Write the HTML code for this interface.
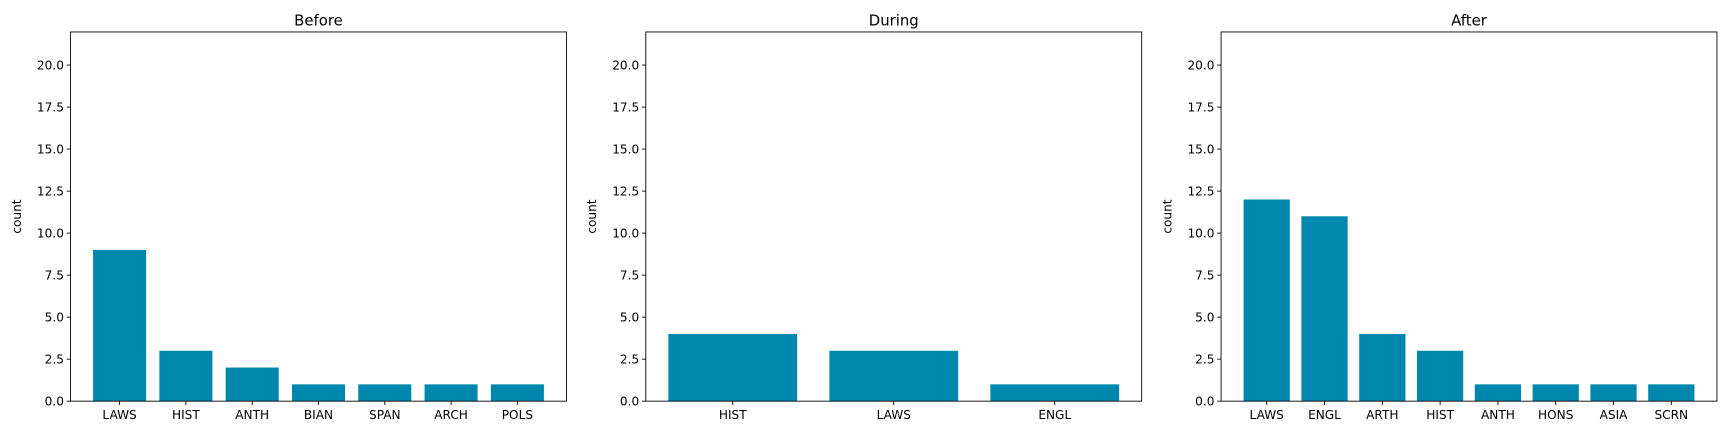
<!DOCTYPE html>
<html><head><meta charset="utf-8"><style>
body{margin:0;background:#fff;}
svg{display:block;font-family:"DejaVu Sans","Liberation Sans",sans-serif;}
</style></head><body>
<svg id="chart" width="1728" height="435" viewBox="0 0 1568 394.7" preserveAspectRatio="none"></svg>
<script>
const titles = ["Before","During","After"];
const cats0 = ["LAWS","HIST","ANTH","BIAN","SPAN","ARCH","POLS"];
const vals0 = [9,3,2,1,1,1,1];
const cats1 = ["HIST","LAWS","ENGL"];
const vals1 = [4,3,1];
const cats2 = ["LAWS","ENGL","ARTH","HIST","ANTH","HONS","ASIA","SCRN"];
const vals2 = [12,11,4,3,1,1,1,1];
const yTicks = [0,2.5,5,7.5,10,12.5,15,17.5,20];
const yMax = 21.97;

const svgEl = document.getElementById('chart');
const NS = 'http://www.w3.org/2000/svg';
function mk(tag, attrs, parent){const e=document.createElementNS(NS,tag);for(const k in attrs)e.setAttribute(k,attrs[k]);parent.appendChild(e);return e;}
const panels = [[cats0,vals0],[cats1,vals1],[cats2,vals2]];
const lefts = [64,586,1108];
const plotW = 450, plotTop = 29, plotBottom = 364;
panels.forEach((p,i)=>{
  const cats=p[0], vals=p[1], L=lefts[i];
  const g = mk('g',{},svgEl);
  
  
  const n=cats.length, lo=-0.4-0.05*(n-1+0.8), hi=n-1+0.4+0.05*(n-1+0.8);
  const x = v => L + (v-lo)/(hi-lo)*plotW;
  const y = v => plotBottom - v/yMax*(plotBottom-plotTop);
  vals.forEach((v,j)=>{
    const r = mk('rect',{x:x(j-0.4),y:y(v),width:x(j+0.4)-x(j-0.4),height:plotBottom-y(v),fill:'#0087ad'},g);
    
    
    mk('line',{x1:x(j),x2:x(j),y1:plotBottom,y2:plotBottom+3.5,stroke:'#000','stroke-width':0.8},g);
    const t = mk('text',{x:x(j),y:plotBottom+16,'text-anchor':'middle','font-size':'11px',fill:'#000'},g);
    t.textContent=cats[j];
    
    
  });
  yTicks.forEach(v=>{
    mk('line',{x1:L-3.5,x2:L,y1:y(v),y2:y(v),stroke:'#000','stroke-width':0.8},g);
    const t = mk('text',{x:L-6,y:y(v)+4,'text-anchor':'end','font-size':'11px',fill:'#000'},g);
    t.textContent=v.toFixed(1);
    
    
  });
  mk('rect',{x:L,y:plotTop,width:plotW,height:plotBottom-plotTop,fill:'none',stroke:'#000','stroke-width':0.8},g);
  const tt = mk('text',{x:L+plotW/2,y:plotTop-6,'text-anchor':'middle','font-size':'13.5px',fill:'#000'},g);
  tt.textContent=titles[i];
  
  
  const yl = mk('text',{x:0,y:0,'text-anchor':'middle','font-size':'11px',fill:'#000',transform:`translate(${L-45},${(plotTop+plotBottom)/2}) rotate(-90)`},g);
  yl.textContent='count';
  
  
});
</script>
</body></html>
